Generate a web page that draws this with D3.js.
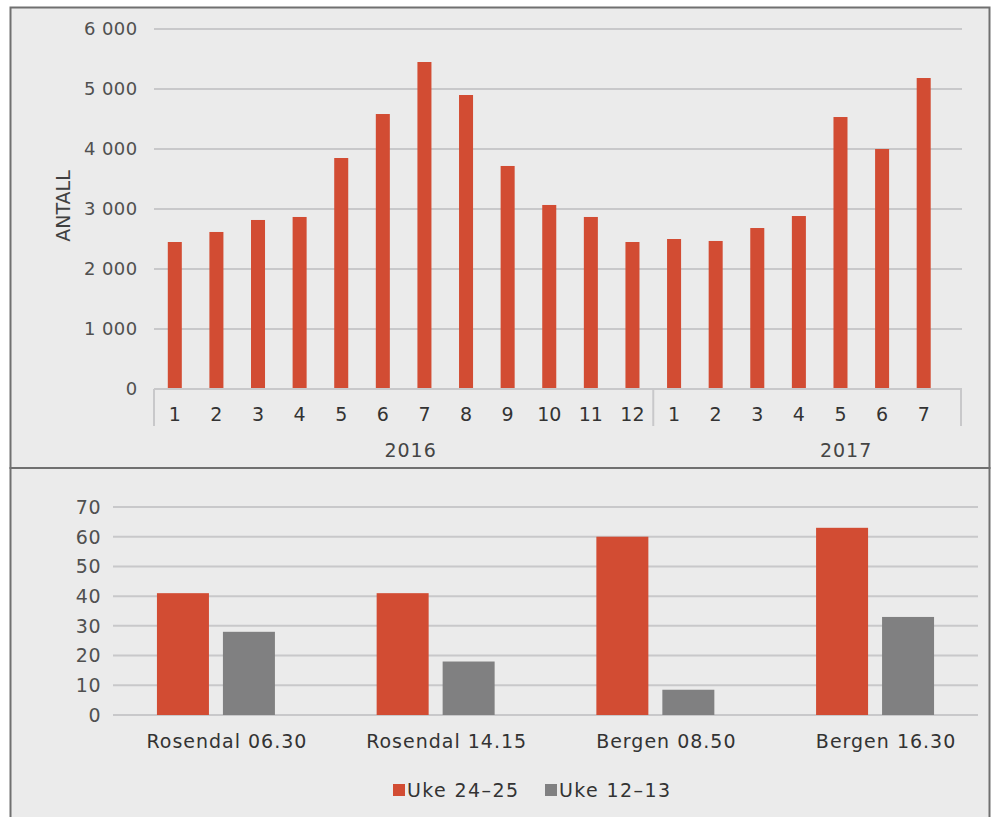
<!DOCTYPE html>
<html>
<head>
<meta charset="utf-8">
<script src="https://cdn.jsdelivr.net/npm/d3@7"></script>
<style>
  html, body { margin: 0; padding: 0; background: #ffffff; }
  svg { display: block; }
  text { font-family: "DejaVu Sans", sans-serif; }
</style>
</head>
<body>
<script>
// ---------- DATA ----------
const months = ["1","2","3","4","5","6","7","8","9","10","11","12","1","2","3","4","5","6","7"];
const monthYears = ["2016","2016","2016","2016","2016","2016","2016","2016","2016","2016","2016","2016",
                    "2017","2017","2017","2017","2017","2017","2017"];
const antall = [2450, 2617, 2817, 2867, 3850, 4583, 5450, 4900, 3717, 3067, 2867, 2450,
                2500, 2467, 2683, 2883, 4533, 4000, 5183];
const topTicks = [0, 1000, 2000, 3000, 4000, 5000, 6000];
const yearLabels = ["2016", "2017"];

const routes = ["Rosendal 06.30", "Rosendal 14.15", "Bergen 08.50", "Bergen 16.30"];
const seriesNames = ["Uke 24–25", "Uke 12–13"];
const uke2425 = [41, 41, 60, 63];
const uke1213 = [28, 18, 8.5, 33];
const bottomTicks = [0, 10, 20, 30, 40, 50, 60, 70];

// ---------- STYLE ----------
const W = 992, H = 817;
const BG = "#ebebeb";
const RED = "#d24c33";
const GREY = "#808081";
const GRID = "#c8c8ca";
const TXT = "#404040";

const svg = d3.select("body").append("svg").attr("width", W).attr("height", H);

// Panels
svg.append("rect").attr("x", 10.5).attr("y", 468).attr("width", 979).attr("height", 360)
  .attr("fill", BG).attr("stroke", "#707070").attr("stroke-width", 2);
svg.append("rect").attr("x", 10.5).attr("y", 7.5).attr("width", 979).attr("height", 460.5)
  .attr("fill", BG).attr("stroke", "#707070").attr("stroke-width", 2);

// ---------- TOP CHART ----------
const nf = d3.formatLocale({decimal: ",", thousands: " ", grouping: [3], currency: ["", ""]}).format(",d");
const gTop = svg.append("g");
const x1 = d3.scaleBand().domain(d3.range(antall.length)).range([154, 944.5]).paddingInner(0.663).paddingOuter(0.3315);
const y1 = d3.scaleLinear().domain([0, 6000]).range([389, 29]);
const gridRight1 = 962;

gTop.append("g").selectAll("line").data(topTicks.filter(d => d > 0)).join("line")
  .attr("x1", 154).attr("x2", gridRight1)
  .attr("y1", d => y1(d)).attr("y2", d => y1(d))
  .attr("stroke", GRID).attr("stroke-width", 2);

gTop.append("g").selectAll("text").data(topTicks).join("text")
  .attr("x", 137.5).attr("y", d => y1(d)).attr("dy", "0.36em")
  .attr("text-anchor", "end").attr("font-size", 18).attr("letter-spacing", "0.4px").attr("fill", "#505050")
  .text(d => nf(d));

gTop.append("text")
  .attr("transform", `translate(70, ${y1(3000) - 3}) rotate(-90)`)
  .attr("text-anchor", "middle").attr("font-size", 19).attr("fill", TXT)
  .text("ANTALL");

gTop.append("g").selectAll("rect").data(antall).join("rect")
  .attr("x", (d, i) => x1(i)).attr("width", x1.bandwidth())
  .attr("y", d => y1(d)).attr("height", d => y1(0) - y1(d))
  .attr("fill", RED);

gTop.append("line").attr("x1", 154).attr("x2", gridRight1).attr("y1", y1(0)).attr("y2", y1(0))
  .attr("stroke", GRID).attr("stroke-width", 2);

gTop.append("g").selectAll("text").data(months).join("text")
  .attr("x", (d, i) => x1(i) + x1.bandwidth() / 2).attr("y", 421)
  .attr("text-anchor", "middle").attr("font-size", 19).attr("fill", "#333")
  .text(d => d);

const step1 = x1.step();
const groupStarts = yearLabels.map(y => monthYears.indexOf(y));
const sepX = groupStarts.map(i => x1(i) - (step1 - x1.bandwidth()) / 2);
sepX.push(gridRight1 - 1);
gTop.append("g").selectAll("line").data(sepX).join("line")
  .attr("x1", d => d).attr("x2", d => d).attr("y1", y1(0)).attr("y2", 426)
  .attr("stroke", GRID).attr("stroke-width", 2);

const yearOffsets = [7, 39];
gTop.append("g").selectAll("text").data(yearLabels).join("text")
  .attr("x", (d, i) => (sepX[i] + sepX[i + 1]) / 2 + yearOffsets[i]).attr("y", 457)
  .attr("text-anchor", "middle").attr("font-size", 19).attr("letter-spacing", "1px").attr("fill", "#454545")
  .text(d => d);

// ---------- BOTTOM CHART ----------
const gBot = svg.append("g");
const x2 = d3.scaleBand().domain(routes).range([113, 978]).paddingInner(0.463).paddingOuter(0.2);
const xs = d3.scaleBand().domain([0, 1]).range([0, x2.bandwidth()]).paddingInner(0.212).paddingOuter(0);
const y2 = d3.scaleLinear().domain([0, 70]).range([715, 507]);

gBot.append("g").selectAll("line").data(bottomTicks).join("line")
  .attr("x1", 113).attr("x2", 978)
  .attr("y1", d => y2(d)).attr("y2", d => y2(d))
  .attr("stroke", GRID).attr("stroke-width", 2);

gBot.append("g").selectAll("text").data(bottomTicks).join("text")
  .attr("x", 101).attr("y", d => y2(d)).attr("dy", "0.36em")
  .attr("text-anchor", "end").attr("font-size", 19).attr("letter-spacing", "0.5px").attr("fill", "#505050")
  .text(d => d);

const series = [uke2425, uke1213];
const colors = [RED, GREY];
series.forEach((vals, s) => {
  gBot.append("g").selectAll("rect").data(vals).join("rect")
    .attr("x", (d, i) => x2(routes[i]) + xs(s)).attr("width", xs.bandwidth())
    .attr("y", d => y2(d)).attr("height", d => y2(0) - y2(d))
    .attr("fill", colors[s]);
});

gBot.append("g").selectAll("text").data(routes).join("text")
  .attr("x", d => x2(d) + x2.bandwidth() / 2 + 11).attr("y", 748)
  .attr("text-anchor", "middle").attr("font-size", 19).attr("letter-spacing", "1px").attr("fill", "#333")
  .text(d => d);

const legendX = [393, 545];
const leg = gBot.append("g").selectAll("g").data(seriesNames).join("g")
  .attr("transform", (d, i) => `translate(${legendX[i]}, 790)`);
leg.append("rect").attr("x", 0).attr("y", -6).attr("width", 12).attr("height", 12)
  .attr("fill", (d, i) => colors[i]);
leg.append("text").attr("x", 14).attr("y", 0).attr("dy", "0.36em")
  .attr("font-size", 19).attr("letter-spacing", "1.4px").attr("fill", "#333").text(d => d);
</script>
</body>
</html>
